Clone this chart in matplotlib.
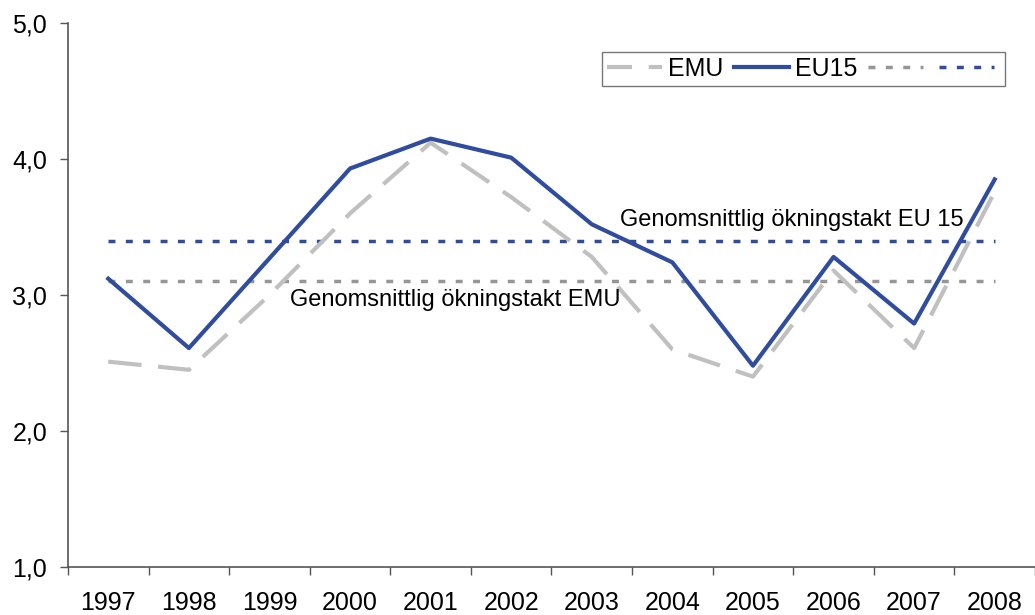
import numpy as np
import matplotlib.pyplot as plt
from matplotlib.lines import Line2D

plt.rcParams['font.family'] = ['Liberation Sans', 'DejaVu Sans']

# Data
years = ['1997', '1998', '1999', '2000', '2001', '2002',
         '2003', '2004', '2005', '2006', '2007', '2008']
emu = [2.51, 2.45, 3.00, 3.60, 4.12, 3.72, 3.28, 2.60, 2.40, 3.18, 2.61, 3.76]
eu15 = [3.12, 2.61, 3.27, 3.93, 4.15, 4.01, 3.52, 3.24, 2.48, 3.28, 2.79, 3.85]
avg_emu = 3.10
avg_eu15 = 3.40
y_ticks = [1.0, 2.0, 3.0, 4.0, 5.0]

grey_dash = '#C0C0C0'
grey_dot = '#969696'
blue = '#2F4C9F'

fig = plt.figure(figsize=(10.35, 6.15), dpi=100)
ax = fig.add_axes([0.0657, 0.078, 0.9343, 0.8846])

x = np.arange(1, len(years) + 1)

# average lines
ax.plot(x, [avg_emu] * len(x), color=grey_dot, lw=2.5, linestyle=(0, (2, 3)), zorder=1)
ax.plot(x, [avg_eu15] * len(x), color=blue, lw=2.5, linestyle=(0, (2, 3)), zorder=1)

# series
ax.plot(x, emu, color=grey_dash, lw=3, linestyle=(0, (8, 4)), zorder=2)
ax.plot(x, eu15, color=blue, lw=3, zorder=3)

ax.text(11.62, 3.55, 'Genomsnittlig ökningstakt EU 15', fontsize=17,
        ha='right', va='center')
ax.text(3.25, 2.96, 'Genomsnittlig ökningstakt EMU', fontsize=17,
        ha='left', va='center')

ax.set_xlim(0.5, len(years) + 0.5)
ax.set_ylim(1.0, 5.0)

# category axis: tick marks between categories, labels in the middle
ax.set_xticks(np.arange(0.5, len(years) + 1, 1.0))
ax.set_xticklabels([])
ax.set_xticks(x, minor=True)
ax.set_xticklabels(years, minor=True, fontsize=18)
ax.tick_params(axis='x', which='major', direction='out', length=6, width=1, color='#555555')
ax.tick_params(axis='x', which='minor', length=0, pad=17)

ax.set_yticks(y_ticks)
ax.set_yticklabels([f'{v:.1f}'.replace('.', ',') for v in y_ticks], fontsize=18)
ax.tick_params(axis='y', direction='out', length=6, width=1, color='#555555', pad=9)

for side in ['top', 'right']:
    ax.spines[side].set_visible(False)
for side in ['left', 'bottom']:
    ax.spines[side].set_color('#555555')
    ax.spines[side].set_linewidth(1.2)

handles = [
    Line2D([], [], color=grey_dash, lw=3, linestyle=(0, (6, 4))),
    Line2D([], [], color=blue, lw=3),
    Line2D([], [], color=grey_dot, lw=2.5, linestyle=(0, (2, 3))),
    Line2D([], [], color=blue, lw=2.5, linestyle=(0, (2, 3))),
]
labels = ['EMU', 'EU15', '', '']
leg = fig.legend(handles, labels, loc='upper right', ncol=4,
                 bbox_to_anchor=(1005 / 1035, 1 - 52 / 615),
                 fontsize=18, frameon=True, fancybox=False,
                 handlelength=2.2, handletextpad=0.25, columnspacing=0.4,
                 borderpad=0.2, borderaxespad=0)
leg.get_frame().set_edgecolor('#555555')
leg.get_frame().set_linewidth(1)

fig.savefig('out.png', dpi=100)
